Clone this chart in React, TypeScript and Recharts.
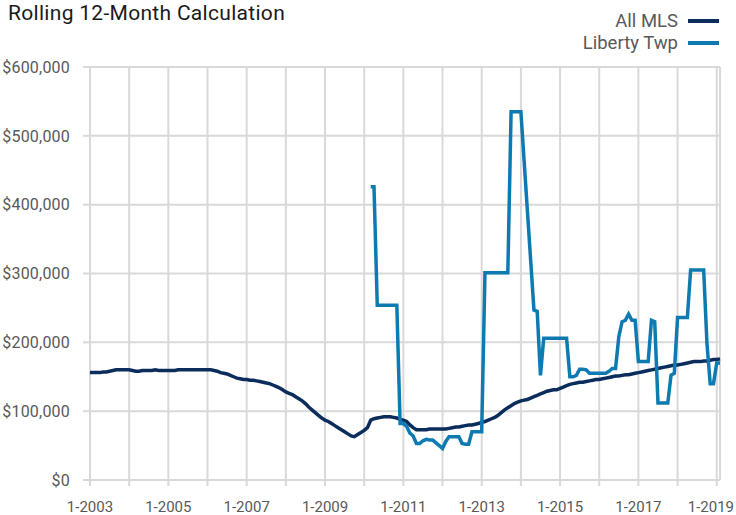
import {
  LineChart,
  Line,
  XAxis,
  YAxis,
  CartesianGrid,
  ReferenceLine,
} from "recharts";

// months counted from 1-2003, values in $ thousands
const firstYear = 2003;
const libertyStart = 86;

const allMls: number[] = [
  156, 156, 156, 156, 157, 157, 158, 159, 160, 160, 160, 160,
  160, 159, 158, 158, 159, 159, 159, 159, 160, 159, 159, 159,
  159, 159, 159, 160, 160, 160, 160, 160, 160, 160, 160, 160,
  160, 160, 159, 158, 156, 155, 154, 152, 150, 148, 147, 146,
  146, 145, 145, 144, 143, 142, 141, 140, 138, 136, 134, 131,
  128, 126, 124, 121, 118, 115, 111, 106, 102, 98, 94, 90,
  87, 85, 82, 79, 76, 73, 70, 67, 64, 63, 66, 69,
  72, 76, 87, 89, 90, 91, 92, 92, 92, 91, 90, 88,
  87, 85, 80, 76, 73, 73, 73, 73, 74, 74, 74, 74,
  74, 74, 75, 76, 77, 77, 78, 79, 80, 80, 81, 82,
  84, 85, 87, 89, 91, 94, 98, 102, 105, 108, 111, 113,
  115, 116, 117, 119, 121, 123, 125, 127, 129, 130, 131, 131,
  133, 135, 137, 139, 140, 141, 142, 142, 143, 144, 145, 146,
  146, 147, 148, 149, 150, 151, 151, 152, 153, 153, 154, 155,
  156, 157, 158, 159, 160, 161, 162, 163, 164, 165, 166, 167,
  167, 168, 169, 170, 171, 172, 172, 172, 173, 173, 174, 175,
  175, 176,
];

const libertyTwp: number[] = [
  426, 426, 254, 254, 254, 254, 254, 254, 254, 82,
  82, 78, 68, 64, 53, 53, 57, 59, 58, 58, 54, 50,
  46, 56, 63, 63, 63, 63, 53, 52, 52, 70, 70, 70,
  70, 301, 301, 301, 301, 301, 301, 301, 301, 535, 535, 535,
  535, 463, 391, 319, 247, 245, 152, 206, 206, 206, 206, 206,
  206, 206, 206, 150, 150, 152, 161, 161, 160, 155, 155, 155,
  155, 155, 155, 158, 162, 162, 208, 230, 232, 241, 232, 232,
  172, 172, 172, 172, 232, 230, 112, 112, 112, 112, 152, 155,
  236, 236, 236, 236, 305, 305, 305, 305, 305, 199, 140, 140,
  170, 170,
];

const xTicks = [0, 12, 24, 36, 48, 60, 72, 84, 96, 108, 120, 132, 144, 156, 168, 180, 192];
const yTicks = [0, 100, 200, 300, 400, 500, 600];

const data = allMls.map((v, i) => ({
  month: i,
  allMls: v,
  liberty: i >= libertyStart ? libertyTwp[i - libertyStart] : null,
}));

const font = "Roboto, 'Liberation Sans', sans-serif";
const navy = "#0b2d5c";
const blue = "#0d7bb1";
const grid = "#d9d9d9";
const label = "#595959";

const fmtY = (v: number) => `$${(v * 1000).toLocaleString("en-US")}`;

const XTick = (props: any) => {
  const { x, y, payload } = props;
  const m = payload.value as number;
  if ((m / 12) % 2 !== 0) return null;
  const last = m === xTicks[xTicks.length - 1];
  return (
    <text
      x={last ? 734 : x}
      y={y + 11}
      textAnchor={last ? "end" : "middle"}
      fill={label}
      fontSize={15}
      fontFamily={font}
    >
      {`1-${firstYear + m / 12}`}
    </text>
  );
};

const LegendRow = ({ text, color, top }: { text: string; color: string; top: number }) => (
  <div
    style={{
      position: "absolute",
      right: 17,
      top,
      height: 22,
      lineHeight: "22px",
      display: "flex",
      alignItems: "center",
      fontFamily: font,
      fontSize: 18.5,
      color: label,
    }}
  >
    <span>{text}</span>
    <span style={{ display: "inline-block", width: 31, height: 4, background: color, marginLeft: 10 }} />
  </div>
);

export default function App() {
  return (
    <div style={{ position: "fixed", left: 0, top: 0, width: 736, height: 515, background: "#fff" }}>
      <div
        style={{
          position: "absolute",
          left: 8,
          top: 1,
          fontFamily: font,
          fontSize: 21,
          letterSpacing: 0.3,
          color: "#1a1a1a",
          whiteSpace: "nowrap",
        }}
      >
        Rolling 12-Month Calculation
      </div>
      <LegendRow text="All MLS" color={navy} top={10} />
      <LegendRow text="Liberty Twp" color={blue} top={32} />
      <LineChart width={736} height={515} data={data} margin={{ top: 67, right: 16, bottom: 0, left: 0 }}>
        <CartesianGrid stroke={grid} strokeWidth={2} />
        <XAxis
          dataKey="month"
          type="number"
          domain={[0, 193]}
          ticks={xTicks}
          interval={0}
          height={35}
          tickSize={6}
          tickMargin={15}
          stroke={grid}
          strokeWidth={2}
          tick={<XTick />}
        />
        <YAxis
          domain={[0, 600]}
          ticks={yTicks}
          tickFormatter={fmtY}
          width={90}
          tickSize={7}
          tickMargin={13}
          axisLine={false}
          tickLine={{ stroke: grid, strokeWidth: 2 }}
          tick={{ fill: label, fontSize: 16, fontFamily: font, letterSpacing: 0.2 }}
        />
        <ReferenceLine x={193} stroke={grid} strokeWidth={2} />
        <Line
          dataKey="allMls"
          type="linear"
          stroke={navy}
          strokeWidth={3.5}
          dot={false}
          isAnimationActive={false}
        />
        <Line
          dataKey="liberty"
          type="linear"
          stroke={blue}
          strokeWidth={3.5}
          dot={false}
          isAnimationActive={false}
        />
      </LineChart>
    </div>
  );
}
